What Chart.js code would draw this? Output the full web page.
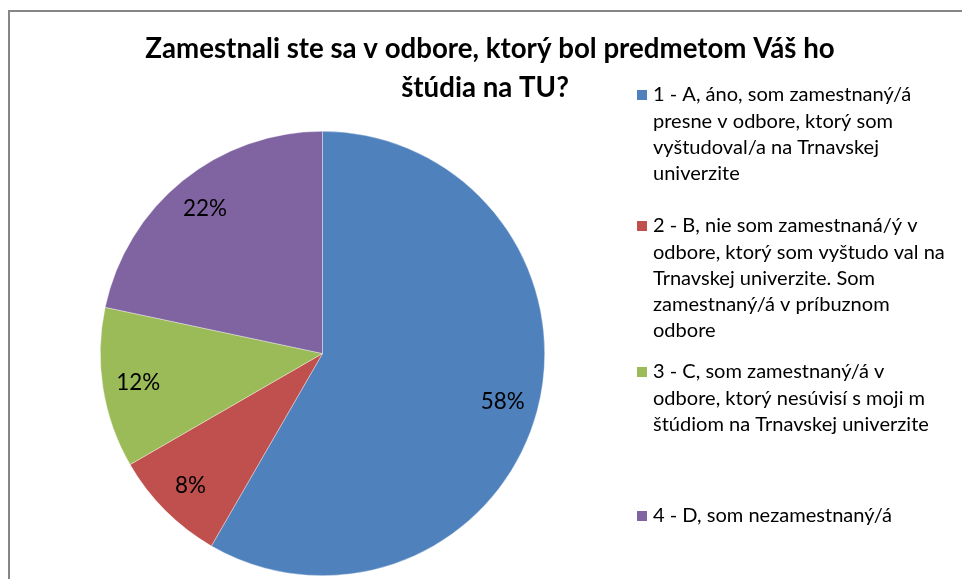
<!DOCTYPE html>
<html>
<head>
<meta charset="utf-8">
<script src="https://cdn.jsdelivr.net/npm/chart.js@4.4.0/dist/chart.umd.min.js"></script>
<style>
  body { margin: 0; background: #fff; }
  #wrap { width: 962px; height: 579px; }
</style>
</head>
<body>
<div id="wrap"><canvas id="grafico" width="962" height="579"></canvas></div>
<script>
// dados (35/5/7/13 de 60 respondentes -> 58%, 8%, 12%, 22%)
var categorias = [
  ['1 - A, áno, som zamestnaný/á', 'presne v odbore, ktorý som', 'vyštudoval/a na Trnavskej', 'univerzite'],
  ['2 - B, nie som zamestnaná/ý v', 'odbore, ktorý som vyštudo val na', 'Trnavskej univerzite. Som', 'zamestnaný/á v príbuznom', 'odbore'],
  ['3 - C, som zamestnaný/á v', 'odbore, ktorý nesúvisí s moji m', 'štúdiom na Trnavskej univerzite'],
  ['4 - D, som nezamestnaný/á']
];
var valores = [35, 5, 7, 13];
var cores = ['#4F81BD', '#C0504D', '#9BBB59', '#8064A2'];
var titulo = ['Zamestnali ste sa v odbore, ktorý bol predmetom Váš ho', 'štúdia na TU?'];

var fonte = 'Lato, "Open Sans", sans-serif';

// ajusta o tamanho da fonte para a largura medida na imagem
function tamanhoFonte(ctx, texto, peso, larguraAlvo) {
  ctx.font = peso + ' 100px ' + fonte;
  return 100 * larguraAlvo / ctx.measureText(texto).width;
}

const molduraPlugin = {
  id: 'moldura',
  beforeDraw(chart) {
    const ctx = chart.ctx;
    ctx.save();
    ctx.fillStyle = '#fff';
    ctx.fillRect(0, 0, chart.width, chart.height);
    ctx.strokeStyle = '#868686';
    ctx.lineWidth = 2;
    ctx.strokeRect(9, 11, 1000, 1000);
    ctx.restore();
  }
};

const tituloPlugin = {
  id: 'tituloExcel',
  afterDraw(chart) {
    const ctx = chart.ctx;
    ctx.save();
    var tam = tamanhoFonte(ctx, titulo[0], 'bold', 690);
    ctx.font = 'bold ' + tam + 'px ' + fonte;
    ctx.fillStyle = '#000';
    ctx.textAlign = 'center';
    ctx.textBaseline = 'middle';
    ctx.fillText(titulo[0], 490, 49);
    ctx.fillText(titulo[1], 485, 88);
    ctx.restore();
  }
};

const legendaPlugin = {
  id: 'legendaExcel',
  afterDraw(chart) {
    const ctx = chart.ctx;
    var inicios = [95, 226, 372, 516];
    var altLinha = 26.2;
    ctx.save();
    var tam = tamanhoFonte(ctx, categorias[2][2], 'normal', 276);
    ctx.font = tam + 'px ' + fonte;
    ctx.textAlign = 'left';
    ctx.textBaseline = 'middle';
    categorias.forEach(function (linhas, i) {
      ctx.fillStyle = cores[i];
      ctx.fillRect(637, inicios[i] - 5, 10, 10);
      ctx.fillStyle = '#000';
      linhas.forEach(function (linha, j) {
        ctx.fillText(linha, 653, inicios[i] + j * altLinha);
      });
    });
    ctx.restore();
  }
};

const rotulosPlugin = {
  id: 'rotulos',
  afterDatasetsDraw(chart) {
    const ctx = chart.ctx;
    const meta = chart.getDatasetMeta(0);
    const total = valores.reduce((a, b) => a + b, 0);
    ctx.save();
    var tam = tamanhoFonte(ctx, '58%', 'normal', 44);
    ctx.font = tam + 'px ' + fonte;
    ctx.fillStyle = '#000';
    ctx.textAlign = 'center';
    ctx.textBaseline = 'middle';
    meta.data.forEach(function (arco, i) {
      const p = arco.getProps(['x', 'y', 'startAngle', 'endAngle', 'outerRadius'], true);
      const meio = (p.startAngle + p.endAngle) / 2;
      const r = p.outerRadius * 0.84;
      const texto = Math.round(valores[i] / total * 100) + '%';
      ctx.fillText(texto, p.x + Math.cos(meio) * r, p.y + Math.sin(meio) * r);
    });
    ctx.restore();
  }
};

new Chart(document.getElementById('grafico'), {
  type: 'pie',
  data: {
    labels: categorias.map(c => c.join(' ')),
    datasets: [{
      data: valores,
      backgroundColor: cores,
      borderColor: 'rgba(255,255,255,0.6)',
      borderWidth: 0.6
    }]
  },
  options: {
    responsive: false,
    animation: false,
    layout: {
      padding: { left: 100, right: 417, top: 131, bottom: 3 }
    },
    plugins: {
      legend: { display: false },
      title: { display: false },
      tooltip: { enabled: false }
    }
  },
  plugins: [molduraPlugin, rotulosPlugin, tituloPlugin, legendaPlugin]
});
</script>
</body>
</html>
